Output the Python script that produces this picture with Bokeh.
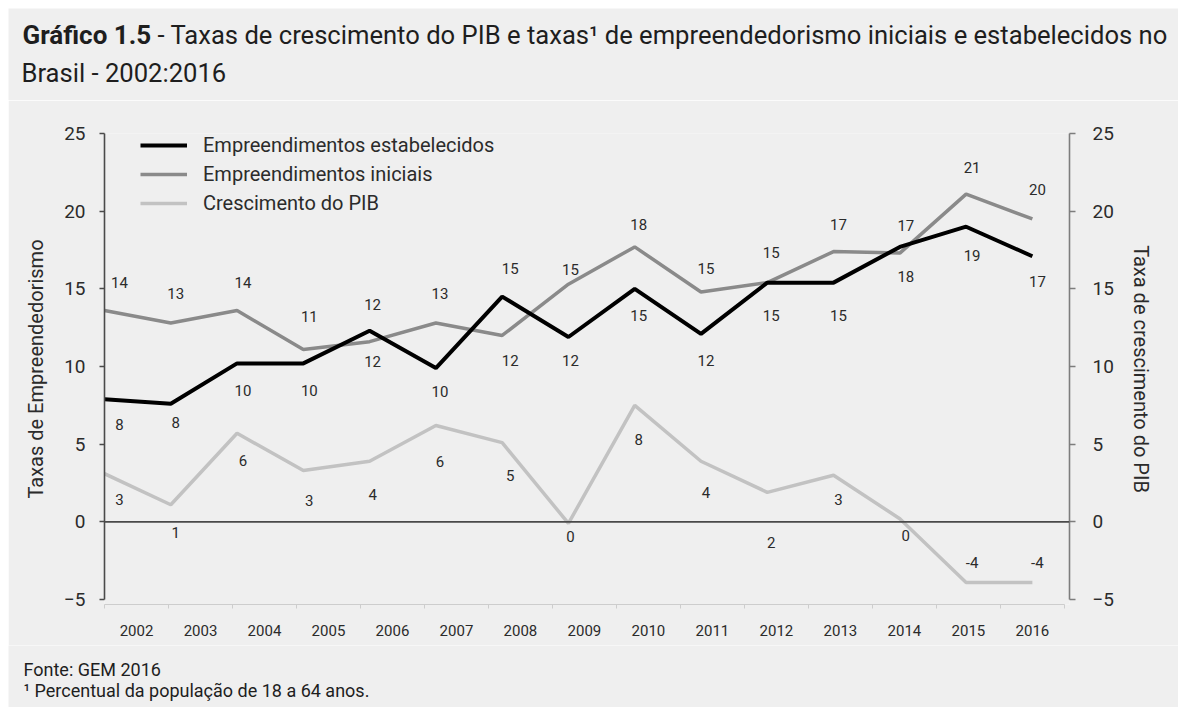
from bokeh.plotting import figure
from bokeh.layouts import column, row
from bokeh.models import (Range1d, FixedTicker, LinearAxis, Legend,
                          LegendItem, Span, ColumnDataSource, Spacer)
from bokeh.core.properties import value
from bokeh.embed import file_html
from bokeh.resources import INLINE

# ---------------- data ----------------
anos = ["2002", "2003", "2004", "2005", "2006", "2007", "2008", "2009",
        "2010", "2011", "2012", "2013", "2014", "2015", "2016"]
estabelecidos = [7.9, 7.6, 10.2, 10.2, 12.3, 9.9, 14.5, 11.9, 15.0, 12.1,
                 15.4, 15.4, 17.7, 19.0, 17.1]
iniciais = [13.6, 12.8, 13.6, 11.1, 11.6, 12.8, 12.0, 15.3, 17.7, 14.8,
            15.4, 17.4, 17.3, 21.1, 19.5]
pib = [3.1, 1.1, 5.7, 3.3, 3.9, 6.2, 5.1, -0.1, 7.5, 3.9, 1.9, 3.0, 0.2,
       -3.9, -3.9]
rot_estabelecidos = ["8", "8", "10", "10", "12", "10", "15", "12", "15", "12",
                     "15", "15", "18", "19", "17"]
rot_iniciais = ["14", "13", "14", "11", "12", "13", "12", "15", "18", "15",
                "15", "17", "17", "21", "20"]
rot_pib = ["3", "1", "6", "3", "4", "6", "5", "0", "8", "4", "2", "3", "0",
           "-4", "-4"]
y_ticks = [-5, 0, 5, 10, 15, 20, 25]

titulo_negrito = "Gr\u00e1fico 1.5"
titulo_linha1 = ("- Taxas de crescimento do PIB e taxas\u00b9 de empreendedorismo "
                 "iniciais e estabelecidos no")
titulo_linha2 = "Brasil - 2002:2016"
fonte = "Fonte: GEM 2016"
nota = "\u00b9 Percentual da popula\u00e7\u00e3o de 18 a 64 anos."

# ---------------- label styling (pixel offsets) ----------------
dy_estab = [25, 19, 27, 27, 31, 23, -28, 24, 27, 27, 33, 33, 30, 29, 25]
dy_inic = [-28, -30, -28, -33, -37, -30, 25, -15, -22, -23, -30, -27, -28, -27, -29]
dy_pib = [26, 28, 27, 30, 33, 36, 33, 13, 34, 31, 50, 24, 17, -20, -20]
dx_lab = [15, 5, 6, 6, 3, 4, 8, 2, 4, 5, 4, 5, 6, 6, 5]

FONT = "Roboto"
BG = "#efefef"
TXT = "#2b2b2b"
W = 1170

n = len(anos)
# points span from the left edge of the first category to the centre of the last
xpos = [i * (n - 0.5) / (n - 1) for i in range(n)]

src = ColumnDataSource(dict(x=xpos, est=estabelecidos, ini=iniciais, pib=pib,
                            r_est=rot_estabelecidos, r_ini=rot_iniciais,
                            r_pib=rot_pib, dy_est=dy_estab, dy_ini=dy_inic,
                            dy_pib=dy_pib, dx=dx_lab))


def text_panel(h, items):
    f = figure(width=W, height=h, x_range=Range1d(0, W), y_range=Range1d(0, h),
               output_backend="svg", toolbar_location=None, min_border=0,
               background_fill_color=BG, border_fill_color=BG,
               outline_line_color=None, x_axis_location=None,
               y_axis_location=None)
    f.xgrid.visible = False
    f.ygrid.visible = False
    for txt, x, y, size, style in items:
        f.text(x=[x], y=[y], text=[txt], text_font=value(FONT),
               text_font_size=size, text_font_style=style,
               text_color="#1e1e1e", text_align="left",
               text_baseline="middle")
    return f


title_fig = text_panel(92, [
    (titulo_negrito, 14, 66, "26px", "bold"),
    (titulo_linha1, 149, 66, "25.6px", "normal"),
    (titulo_linha2, 13, 28, "25.6px", "normal"),
])

p = figure(width=W, height=545,
           x_range=Range1d(0, 15.08), y_range=Range1d(-5.32, 25),
           output_backend="svg", toolbar_location=None,
           background_fill_color=BG, border_fill_color=BG,
           outline_line_color=None,
           min_border_left=96, min_border_right=W - 1061,
           min_border_top=33, min_border_bottom=41,
           x_axis_location=None, y_axis_location=None)
p.xgrid.visible = False
p.ygrid.visible = False

# ---------------- axes ----------------
xaxis = LinearAxis(
    ticker=FixedTicker(ticks=[i + 0.5 for i in range(n)],
                       minor_ticks=list(range(n + 1))),
    major_label_overrides={i + 0.5: anos[i] for i in range(n)},
    bounds=(0, n),
    axis_line_color="#cdcdcd", axis_line_width=1,
    major_tick_line_color=None,
    minor_tick_line_color="#cdcdcd", minor_tick_out=4, minor_tick_in=0,
    major_label_standoff=14,
    major_label_text_font=FONT, major_label_text_font_size="15px",
    major_label_text_color=TXT)
p.add_layout(xaxis, "below")

lab_over = {t: ("\u22125" if t < 0 else str(t)) for t in y_ticks}

yaxis_l = LinearAxis(
    ticker=FixedTicker(ticks=y_ticks, minor_ticks=[]),
    major_label_overrides=lab_over,
    bounds=(-5, 25),
    axis_line_color="#4a4a4a", axis_line_width=1.6,
    major_tick_line_color="#4a4a4a", major_tick_line_width=1.6,
    major_tick_out=5, major_tick_in=0,
    major_label_standoff=14,
    major_label_text_font=FONT, major_label_text_font_size="19px",
    major_label_text_color=TXT,
    axis_label="Taxas de Empreendedorismo",
    axis_label_text_font=FONT, axis_label_text_font_size="20px",
    axis_label_text_font_style="normal", axis_label_text_color=TXT,
    axis_label_standoff=13)
p.add_layout(yaxis_l, "left")

yaxis_r = LinearAxis(
    ticker=FixedTicker(ticks=y_ticks, minor_ticks=[]),
    major_label_overrides=lab_over,
    bounds=(-5, 25),
    axis_line_color="#7d7d7d", axis_line_width=1.6,
    major_tick_line_color="#7d7d7d", major_tick_line_width=1.6,
    major_tick_out=6, major_tick_in=0,
    major_label_standoff=17,
    major_label_text_font=FONT, major_label_text_font_size="19px",
    major_label_text_color=TXT,
    axis_label="Taxa de crescimento do PIB",
    axis_label_text_font=FONT, axis_label_text_font_size="20px",
    axis_label_text_font_style="normal", axis_label_text_color=TXT,
    axis_label_standoff=12)
p.add_layout(yaxis_r, "right")

p.add_layout(Span(location=0, dimension="width", line_color="#4a4a4a",
                  line_width=1.6))

# ---------------- series ----------------
r_pib = p.line("x", "pib", source=src, line_color="#c2c2c2", line_width=3.5)
r_ini = p.line("x", "ini", source=src, line_color="#8a8a8a", line_width=3.5)
r_est = p.line("x", "est", source=src, line_color="#000000", line_width=4)

for ycol, tcol, dycol in (("est", "r_est", "dy_est"), ("ini", "r_ini", "dy_ini"),
                          ("pib", "r_pib", "dy_pib")):
    p.text("x", ycol, text=tcol, source=src, x_offset="dx", y_offset=dycol,
           text_align="center", text_baseline="middle",
           text_font=value(FONT), text_font_size="15px", text_color=TXT)

legend = Legend(items=[
    LegendItem(label="Empreendimentos estabelecidos", renderers=[r_est]),
    LegendItem(label="Empreendimentos iniciais", renderers=[r_ini]),
    LegendItem(label="Crescimento do PIB", renderers=[r_pib]),
], location=(36, 388), orientation="vertical",
    background_fill_alpha=0, border_line_color=None,
    padding=0, margin=0, spacing=3,
    label_height=26, glyph_height=26, glyph_width=47, label_standoff=16,
    label_text_font=FONT, label_text_font_size="20px", label_text_color=TXT)
p.add_layout(legend, "center")

foot_fig = text_panel(62, [
    (fonte, 15, 38, "18px", "normal"),
    (nota, 15, 17, "18px", "normal"),
])

root_title = column(Spacer(height=8), row(Spacer(width=8), title_fig))
root_plot = row(Spacer(width=8), p)
root_foot = row(Spacer(width=8), foot_fig)

open("out.html", "w").write(file_html([root_title, root_plot, root_foot], INLINE))
